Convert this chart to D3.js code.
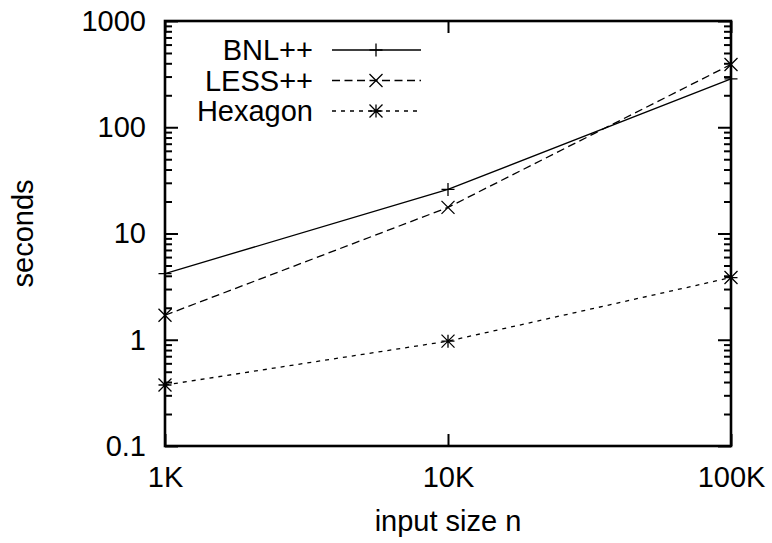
<!DOCTYPE html>
<html>
<head>
<meta charset="utf-8">
<script src="https://cdn.jsdelivr.net/npm/d3@7"></script>
<style>
  body { margin: 0; background: #fff; }
  text { font-family: "Liberation Sans", Arial, sans-serif; fill: #000; }
</style>
</head>
<body>
<div id="chart"></div>
<script>
// input sizes and timings (seconds)
var sizes = [1000, 10000, 100000];
var sizeLabels = ["1K", "10K", "100K"];
var bnl = [4.2, 26, 285];
var less = [1.7, 17.6, 390];
var hexagon = [0.375, 0.97, 3.85];
var yMajor = [0.1, 1, 10, 100, 1000];

var series = [
  { name: "BNL++", values: bnl, dash: null, marker: "plus" },
  { name: "LESS++", values: less, dash: "8,4.5", marker: "cross" },
  { name: "Hexagon", values: hexagon, dash: "4,5", marker: "star" }
];

var W = 772, H = 543;
// plot box (note: "top" is reserved on window, so use plot* names)
var plotL = 165, plotR = 731, plotT = 21, plotB = 446;
var fs = 29;

var svg = d3.select("#chart").append("svg")
  .attr("width", W).attr("height", H);

var x = d3.scaleLog().domain([1000, 100000]).range([plotL, plotR]);
var y = d3.scaleLog().domain([0.1, 1000]).range([plotB, plotT]);

// minor ticks 2..9 for every decade
var yMinor = y.ticks().filter(function (d) { return yMajor.indexOf(d) < 0; });

function tickStyle(g) {
  g.select(".domain").remove();
  g.selectAll("line").attr("stroke", "#000").attr("stroke-width", 2);
  g.selectAll("text").style("font-size", fs + "px");
}

// left axis, ticks pointing inwards
svg.append("g").attr("transform", "translate(" + plotL + ",0)")
  .call(d3.axisLeft(y).tickValues(yMajor).tickSize(-13).tickPadding(19)
    .tickFormat(function (d) { return String(d); }))
  .call(tickStyle);
svg.append("g").attr("transform", "translate(" + plotL + ",0)")
  .call(d3.axisLeft(y).tickValues(yMinor).tickSize(-7).tickFormat(""))
  .call(tickStyle);

// right axis mirror
svg.append("g").attr("transform", "translate(" + plotR + ",0)")
  .call(d3.axisRight(y).tickValues(yMajor).tickSize(-13).tickFormat(""))
  .call(tickStyle);
svg.append("g").attr("transform", "translate(" + plotR + ",0)")
  .call(d3.axisRight(y).tickValues(yMinor).tickSize(-7).tickFormat(""))
  .call(tickStyle);

// bottom axis
svg.append("g").attr("transform", "translate(0," + plotB + ")")
  .call(d3.axisBottom(x).tickValues(sizes).tickSize(-12).tickPadding(20)
    .tickFormat(function (d, i) { return sizeLabels[i]; }))
  .call(tickStyle);
// top mirror
svg.append("g").attr("transform", "translate(0," + plotT + ")")
  .call(d3.axisTop(x).tickValues(sizes).tickSize(-12).tickFormat(""))
  .call(tickStyle);

// border
svg.append("rect")
  .attr("x", plotL).attr("y", plotT)
  .attr("width", plotR - plotL).attr("height", plotB - plotT)
  .attr("fill", "none").attr("stroke", "#000").attr("stroke-width", 2.6);

// axis titles
svg.append("text")
  .attr("transform", "translate(33," + ((plotT + plotB) / 2) + ") rotate(-90)")
  .attr("text-anchor", "middle")
  .style("font-size", fs + "px")
  .text("seconds");

svg.append("text")
  .attr("x", (plotL + plotR) / 2).attr("y", 531)
  .attr("text-anchor", "middle")
  .style("font-size", fs + "px")
  .text("input size n");

function drawMarker(g, type, cx, cy) {
  var s = 6.5, p = "";
  if (type === "plus" || type === "star")
    p += "M" + (cx - s) + "," + cy + "H" + (cx + s) + "M" + cx + "," + (cy - s) + "V" + (cy + s);
  if (type === "cross" || type === "star")
    p += "M" + (cx - s) + "," + (cy - s) + "L" + (cx + s) + "," + (cy + s) +
         "M" + (cx - s) + "," + (cy + s) + "L" + (cx + s) + "," + (cy - s);
  g.append("path").attr("d", p).attr("stroke", "#000").attr("stroke-width", 1.3).attr("fill", "none");
}

var line = d3.line()
  .x(function (d, i) { return x(sizes[i]); })
  .y(function (d) { return y(d); });

series.forEach(function (s) {
  var g = svg.append("g");
  g.append("path")
    .attr("d", line(s.values))
    .attr("fill", "none")
    .attr("stroke", "#000")
    .attr("stroke-width", 1.3)
    .attr("stroke-dasharray", s.dash);
  s.values.forEach(function (v, i) {
    drawMarker(g, s.marker, x(sizes[i]), y(v));
  });
});

// legend
var legY = [50, 80.5, 111];
series.forEach(function (s, i) {
  var g = svg.append("g");
  g.append("text")
    .attr("x", 313).attr("y", legY[i])
    .attr("dy", "0.35em")
    .attr("text-anchor", "end")
    .style("font-size", fs + "px")
    .text(s.name);
  g.append("line")
    .attr("x1", 332).attr("x2", 421)
    .attr("y1", legY[i]).attr("y2", legY[i])
    .attr("stroke", "#000").attr("stroke-width", 1.3)
    .attr("stroke-dasharray", s.dash);
  drawMarker(g, s.marker, 376, legY[i]);
});
</script>
</body>
</html>
